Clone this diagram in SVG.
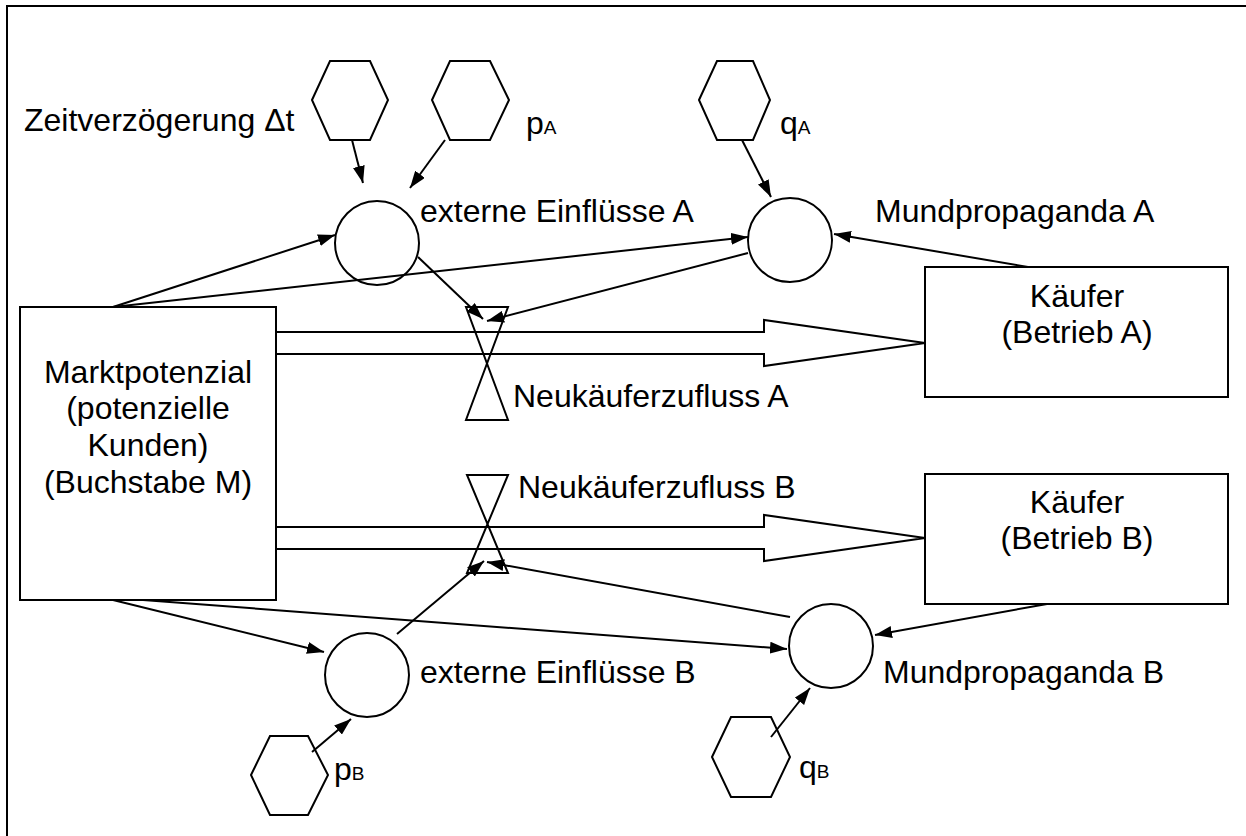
<svg xmlns="http://www.w3.org/2000/svg" width="1246" height="836" viewBox="0 0 1246 836">
<defs>
<style>
.t{font-family:"Liberation Sans",Arial,sans-serif;font-size:32px;fill:#000}
.s{font-size:19px}
.sh{fill:#fff;stroke:#000;stroke-width:2}
.ln{fill:none;stroke:#000;stroke-width:2}
.c{fill:none;stroke:#000;stroke-width:2;marker-end:url(#ah)}
</style>
<marker id="ah" markerWidth="17" markerHeight="12" refX="17" refY="6" orient="auto" markerUnits="userSpaceOnUse"><path d="M0,0 L17,6 L0,12 z" fill="#000"/></marker>
</defs>
<rect width="1246" height="836" fill="#fff"/>
<g id="frame"><path class="ln" d="M7,836 V6 H1246" stroke-width="2.5"/></g>

<g id="pipes">
<polygon class="sh" points="276,332 764,332 764,320 925,343 764,366 764,354 276,354"/>
<polygon class="sh" points="276,527 764,527 764,515 925,538 764,561 764,549 276,549"/>
</g>

<g id="markt"><rect class="sh" x="20" y="307" width="256" height="293"/>
<text class="t" text-anchor="middle"><tspan x="148" y="383">Marktpotenzial</tspan><tspan x="148" y="419">(potenzielle</tspan><tspan x="148" y="456">Kunden)</tspan><tspan x="148" y="493">(Buchstabe M)</tspan></text></g>

<g id="kaeuferA"><rect class="sh" x="925" y="267" width="303" height="130"/>
<text class="t" text-anchor="middle"><tspan x="1077" y="307">Käufer</tspan><tspan x="1077" y="343">(Betrieb A)</tspan></text></g>
<g id="kaeuferB"><rect class="sh" x="925" y="474" width="303" height="130"/>
<text class="t" text-anchor="middle"><tspan x="1077" y="513">Käufer</tspan><tspan x="1077" y="549">(Betrieb B)</tspan></text></g>

<g id="valveA"><path class="ln" d="M466,307 L508,307 L466,420 L508,420 Z"/><text class="t" x="513" y="407">Neukäuferzufluss A</text></g>
<g id="valveB"><path class="ln" d="M467,475 L508,475 L467,573 L508,573 Z"/><text class="t" x="518" y="498">Neukäuferzufluss B</text></g>

<g id="extA"><ellipse class="sh" cx="377" cy="243" rx="42" ry="42"/><text class="t" x="420" y="222">externe Einflüsse A</text></g>
<g id="mundA"><ellipse class="sh" cx="790" cy="240" rx="42" ry="42"/><text class="t" x="875" y="222">Mundpropaganda A</text></g>
<g id="extB"><ellipse class="sh" cx="367" cy="675" rx="42" ry="42"/><text class="t" x="420" y="683">externe Einflüsse B</text></g>
<g id="mundB"><ellipse class="sh" cx="831" cy="646" rx="42" ry="42"/><text class="t" x="883" y="683">Mundpropaganda B</text></g>

<g id="delay"><polygon class="sh" points="312,100 330,61 370,61 388,100 370,140 330,140"/><text class="t" x="24" y="131">Zeitverzögerung Δt</text></g>
<g id="pA"><polygon class="sh" points="432,100 450,61 490,61 509,100 490,140 450,140"/><text class="t" x="526" y="134">p<tspan class="s">A</tspan></text></g>
<g id="qA"><polygon class="sh" points="699,100 717,61 753,61 770,100 753,140 717,140"/><text class="t" x="780" y="134">q<tspan class="s">A</tspan></text></g>
<g id="pB"><polygon class="sh" points="251,775 270,736 308,736 328,775 308,815 270,815"/><text class="t" x="334" y="780">p<tspan class="s">B</tspan></text></g>
<g id="qB"><polygon class="sh" points="712,757 731,717 771,717 790,757 771,797 731,797"/><text class="t" x="799" y="778">q<tspan class="s">B</tspan></text></g>

<g id="connectors">
<line class="c" x1="352" y1="140" x2="363" y2="183"/>
<line class="c" x1="445" y1="140" x2="410" y2="188"/>
<line class="c" x1="113" y1="307" x2="335" y2="235"/>
<line class="c" x1="113" y1="307" x2="748" y2="237"/>
<line class="c" x1="418" y1="257" x2="483" y2="319"/>
<line class="c" x1="748" y1="253" x2="487" y2="321"/>
<line class="c" x1="1028" y1="267" x2="834" y2="234"/>
<line class="c" x1="742" y1="140" x2="771" y2="197"/>
<line class="c" x1="113" y1="600" x2="324" y2="652"/>
<line class="c" x1="143" y1="600" x2="787" y2="649"/>
<line class="c" x1="397" y1="634" x2="484" y2="561"/>
<line class="c" x1="790" y1="617" x2="487" y2="562"/>
<line class="c" x1="1047" y1="604" x2="875" y2="635"/>
<line class="c" x1="312" y1="752" x2="351" y2="719"/>
<line class="c" x1="771" y1="737" x2="810" y2="688"/>
</g>
</svg>
